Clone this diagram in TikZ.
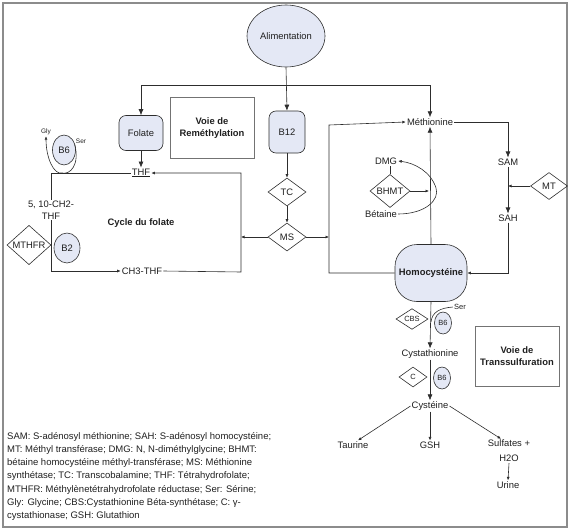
\documentclass[tikz,border=0pt]{standalone}
\usepackage{fontspec}
\setmainfont{Liberation Sans}
\usetikzlibrary{arrows.meta,shapes.geometric}
\definecolor{nodefill}{RGB}{228,232,245}
\definecolor{linec}{RGB}{45,45,45}
\begin{document}
\begin{tikzpicture}[x=1pt,y=-1pt,
  every node/.style={font=\fontsize{9.4}{11}\selectfont, text=black!88},
  lbl/.style={inner sep=1pt},
  ell/.style={ellipse, draw=linec, fill=nodefill, inner sep=0pt, line width=0.6pt},
  rbox/.style={rectangle, rounded corners=7pt, draw=linec, fill=nodefill, inner sep=0pt, line width=0.6pt},
  pbox/.style={rectangle, draw=black!55, line width=0.8pt, align=center, font=\fontsize{9.4}{12}\selectfont\bfseries},
  dia/.style={diamond, draw=linec, inner sep=0pt, line width=0.6pt},
  conn/.style={draw=linec, line width=0.6pt},
  barr/.style={conn, -{Latex[length=6pt,width=5pt]}},
  sarr/.style={conn, -{Latex[length=3.5pt,width=3pt]}},
  small/.style={font=\fontsize{7.5}{9}\selectfont},
  tiny/.style={font=\fontsize{6.5}{8}\selectfont}
]
\useasboundingbox (0,0) rectangle (575,530);
\draw[black!45, line width=1.5pt] (3,3) rectangle (567,527);

% nodes
\node[ell, minimum width=78, minimum height=62] (alim) at (286,36) {Alimentation};
\node[rbox, minimum width=44, minimum height=35] (folate) at (141,133) {Folate};
\node[rbox, minimum width=36, minimum height=42] (b12) at (287,132) {B12};
\node[pbox, minimum width=84, minimum height=61] (voie1) at (212,128) {Voie de\\Reméthylation};
\node[dia, minimum width=38, minimum height=28] (tc) at (287,192) {TC};
\node[dia, minimum width=38, minimum height=28] (ms) at (287,237) {MS};
\node[lbl] (thf) at (141,173) {\underline{THF}};
\node[lbl, align=center, font=\fontsize{9.4}{12}\selectfont] (ch2) at (51,210) {5, 10-CH2-\\THF};
\node[lbl] (ch3) at (142,271) {CH3-THF};
\node[lbl, font=\fontsize{9.4}{11}\selectfont\bfseries] (cycle) at (141,223) {Cycle du folate};
\node[dia, minimum width=44, minimum height=32] (mthfr) at (29,245) {MTHFR};
\node[ell, minimum width=26, minimum height=30] (b2) at (67,248) {B2};
\node[ell, minimum width=23, minimum height=30] (b6a) at (64,150) {B6};
\node[lbl, tiny] (gly) at (46,132) {Gly};
\node[lbl, tiny] (ser1) at (81,141) {Ser};

\node[lbl] (meth) at (430,122) {Méthionine};
\node[lbl] (sam) at (508,162) {SAM};
\node[lbl] (sah) at (508,218) {SAH};
\node[dia, minimum width=37, minimum height=27] (mt) at (549,186) {MT};
\node[lbl] (dmg) at (386,161) {DMG};
\node[dia, minimum width=40, minimum height=27] (bhmt) at (390,191) {BHMT};
\node[lbl] (bet) at (381,214) {Bétaine};
\node[rectangle, rounded corners=22pt, draw=linec, fill=nodefill, line width=0.6pt,
      minimum width=72, minimum height=57, font=\fontsize{9.4}{11}\selectfont\bfseries] (hcy) at (431,273) {Homocystéine};

\node[dia, small, minimum width=32, minimum height=20] (cbs) at (412,319) {CBS};
\node[ell, small, minimum width=17, minimum height=22] (b6b) at (443,323) {B6};
\node[lbl, small] (ser2) at (460,307) {Ser};
\node[lbl] (cysta) at (430,354) {Cystathionine};
\node[dia, small, minimum width=28, minimum height=20] (cc) at (413,377) {C};
\node[ell, small, minimum width=17, minimum height=22] (b6c) at (442,378) {B6};
\node[lbl] (cyste) at (430,406) {Cystéine};
\node[pbox, minimum width=84, minimum height=60] (voie2) at (517,356) {Voie de\\Transsulfuration};
\node[lbl] (taurine) at (353,445) {Taurine};
\node[lbl] (gsh) at (430,445) {GSH};
\node[lbl, align=center, font=\fontsize{9.4}{15}\selectfont] (sulf) at (509,451) {Sulfates +\\H2O};
\node[lbl] (urine) at (508,485) {Urine};

\node[anchor=north west, inner sep=0pt, align=left, font=\fontsize{9.5}{13.2}\selectfont] (legend) at (7,432)
{SAM: S-adénosyl méthionine; SAH: S-adénosyl homocystéine;\\
MT: Méthyl transférase; DMG: N, N-diméthylglycine; BHMT:\\
bétaine homocystéine méthyl-transférase; MS: Méthionine\\
synthétase; TC: Transcobalamine; THF: Tétrahydrofolate;\\
MTHFR: Méthylènetétrahydrofolate réductase; Ser: Sérine;\\
Gly: Glycine; CBS:Cystathionine Béta-synthétase; C: γ-\\
cystathionase; GSH: Glutathion};

% coordinates
\coordinate (jt) at (287,85);
\coordinate (lv) at (241,237);
\coordinate (c1) at (241,272);
\coordinate (c2) at (241,173);
\coordinate (rv) at (329,237);
\coordinate (r1) at (329,273);
\coordinate (r2) at (329,125);
\coordinate (mtj) at (508,186);
\coordinate (hm) at (429,191);
\coordinate (l1) at (51,173);
\coordinate (loopb) at (62,173);

% connectors
\draw[barr] (alim.south) -- (b12.north);
\draw[barr] (jt) -| (folate.north);
\draw[barr] (jt) -| (meth.north);
\draw[barr] (folate.south) -- (thf.north);
\draw[sarr] (b12.south) -- (tc.north);
\draw[sarr] (tc.south) -- (ms.north);
\draw[sarr] (ms.west) -- (lv);
\draw[sarr] (ch3.east) -- (c1) -- (c2) -- (thf.east);
\draw[sarr] (ms.east) -- (rv);
\draw[sarr] (hcy.west) -- (r1) -- (r2) -- (meth.west);
\draw[barr] (hcy.north) -- (meth.south);
\draw[barr] (meth.east) -| (sam.north);
\draw[barr] (sam.south) -- (sah.north);
\draw[sarr] (mt.west) -- (mtj);
\draw[sarr] (sah.south) |- (hcy.east);
\draw[conn] (bhmt.north) -- (bhmt.north |- dmg.south);
\draw[sarr] (bhmt.east) -- (hm);
\draw[sarr] (bet.east) .. controls (425,214) and (440,200) .. (436,188) .. controls (431,172) and (415,163) .. (dmg.east);
\draw[barr] (hcy.south) -- (cysta.north);
\draw[conn] (ser2.west) .. controls (440,308) and (432,312) .. (431,322);
\draw[barr] (cysta.south) -- (cyste.north);
\draw[sarr] (cyste.west) -- ([xshift=5pt]taurine.north);
\draw[sarr] (cyste.south) -- (gsh.north);
\draw[sarr] (cyste.east) -- ([xshift=-8pt]sulf.north);
\draw[sarr] (sulf.south) -- (urine.north);
\draw[conn] (thf.west) -- (l1) -- (ch2.north);
\draw[sarr] (ch2.south) |- (ch3.west);
\draw[sarr] (ser1.south west) .. controls (80,165) and (70,175) .. (loopb) .. controls (54,175) and (46,158) .. (gly.south);
\end{tikzpicture}
\end{document}
